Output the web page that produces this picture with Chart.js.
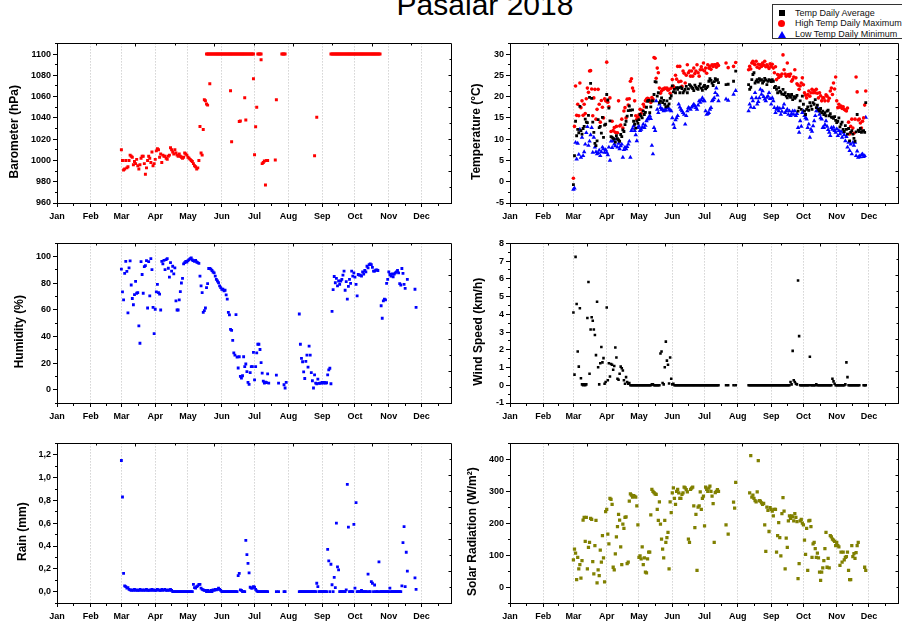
<!DOCTYPE html>
<html><head><meta charset="utf-8">
<script src="https://cdn.jsdelivr.net/npm/chart.js@4.4.1/dist/chart.umd.min.js"></script>
<style>
html,body{margin:0;padding:0;background:#fff;}
body{width:902px;height:625px;position:relative;overflow:hidden;font-family:"Liberation Sans",Arial,sans-serif;}
canvas{position:absolute;}
#title{position:absolute;left:335px;width:300px;top:-10px;line-height:30px;font-size:30px;text-align:center;color:#000;white-space:nowrap;}
#legend{position:absolute;left:772px;top:4px;width:140px;height:33px;border:1px solid #333;background:#fff;font-size:9px;color:#111;}
.li{position:absolute;left:22px;line-height:10px;white-space:nowrap;}
.mk{position:absolute;}
</style></head>
<body>
<div id="title">Pasalar 2018</div>
<div id="legend">
  <div class="mk" style="left:5.7px;top:4.7px;width:6px;height:6px;background:#000;"></div>
  <div class="li" style="top:2.7px;">Temp Daily Average</div>
  <div class="mk" style="left:5.2px;top:14.8px;width:7px;height:7px;border-radius:50%;background:#f00;"></div>
  <div class="li" style="top:13.3px;">High Temp Daily Maximum</div>
  <div class="mk" style="left:4.7px;top:25.5px;width:0;height:0;border-left:4px solid transparent;border-right:4px solid transparent;border-bottom:7px solid #00f;"></div>
  <div class="li" style="top:24px;">Low Temp Daily Minimum</div>
</div>
<script>
const FONT = '"Liberation Sans", Arial, sans-serif';
const monthStarts = [0,31,59,90,120,151,181,212,243,273,304,334];
const monthNames = ['Jan','Feb','Mar','Apr','May','Jun','Jul','Aug','Sep','Oct','Nov','Dec'];
const xRange = [0, 361];
// days of year (Jan 1 = 0) that carry a daily record
const dayRanges = [[59,194],[201,201],[203,203],[208,210],[222,331]];

const baroTicks = [960,980,1000,1020,1040,1060,1080,1100];
const tempTicks = [-5,0,5,10,15,20,25,30];
const humTicks = [0,20,40,60,80,100];
const windTicks = [-1,0,1,2,3,4,5,6,7,8];
const rainTicks = [0,0.2,0.4,0.6,0.8,1.0,1.2];
const rainTickLabels = ['0,0','0,2','0,4','0,6','0,8','1,0','1,2'];
const solarTicks = [0,100,200,300,400];
const axisTitles = ['Barometer (hPa)','Temperature (°C)','Humidity (%)','Wind Speed (km/h)','Rain (mm)','Solar Radiation (W/m²)'];

const baro = [
1010,1000,991,992,1000,993,994,1000,1005,1004,
1003,996,999,997,1001,995,992,996,1002,1004,
1004,997,987,993,1000,1004,1002,998,1008,995,
997,1001,1009,1011,1010,1003,1006,998,1005,1004,
1004,1002,1001,1004,1005,1012,1010,1008,1006,1010,
1007,1005,1004,1006,1004,1003,1002,1003,1007,1006,
1005,1003,1002,1001,1000,999,997,995,994,992,
993,1000,1032,1007,1005,1029,1057,1056,1053,1052,
1100,1072,1100,1100,1100,1100,1100,1100,1100,1100,
1100,1100,1100,1100,1100,1100,1100,1100,1100,1100,
1065.5,1017.6,1100,1100,1100,1100,1100,1100,1036.5,1037,
1100,1100,1100,1059,1038,1100,1100,1100,1100,1100,
1100,1076.7,1005.4,1031.6,1050,1100,1100,1100,1094.7,997,
998,999.5,977,1000,1000,null,
1057,null,1100,1100,null,
null,null,null,null,null,null,null,null,null,null,
null,null,null,null,1004.5,null,1040.6,null,null,null,
null,null,null,null,null,null,null,null,null,1100,
1100,1100,1100,1100,1100,1100,1100,1100,1100,1100,
1100,1100,1100,1100,1100,1100,1100,1100,1100,1100,
1100,1100,1100,1100,1100,1100,1100,1100,1100,1100,
1100,1100,1100,1100,1100,1100,1100,1100,1100,1100,
1100,1100,1100,1100,1100,null,null,null,null,null,
null,null,null,null,null,null,null,null,null,null,
null,null,null,null,null,null,null,null,null,null,
null,null,null,null,null,null,null,null,null,null];
const baroExtra = [[137,1100],[138,1100],[140,1100],[159,1100],[160,1100],[167,1100],[168,1100],[172,1100],[173,1100],[180,1100],[187,1100],[200,1000.4],[206,1100],[207,1100]];

const tAvg = [
-0.7,6.1,14.2,10.8,12.3,11.5,17.7,12.0,11.2,12.5,
13.0,14.7,14.0,13.9,15.6,19.8,23.1,19.6,14.0,11.6,
9.0,8.5,9.6,14.6,12.7,13.0,11.4,15.1,10.4,13.3,
13.5,20.5,19.2,17.3,14.3,10.6,10.4,10.2,10.0,9.3,
10.8,10.1,9.8,9.5,11.1,10.6,12.2,11.8,13.4,14.2,
15.4,16.7,17.8,16.8,15.6,16.9,14.2,13.5,12.6,14.3,
13.7,14.6,15.8,15.4,15.0,16.6,15.8,16.3,17.5,18.9,
19.1,16.2,17.6,19.0,19.0,20.5,23.5,23.4,20.1,20.9,
18.6,19.0,19.7,18.6,19.1,18.2,17.6,19.0,17.8,18.3,
19.6,20.2,22.5,21.1,21.7,20.9,22.1,21.7,22.1,20.9,
22.2,21.9,20.9,21.3,21.7,22.4,20.9,21.8,22.8,22.5,
22.2,21.9,21.4,22.7,22.2,21.9,21.7,22.4,23.0,22.0,
21.5,22.3,22.6,21.8,22.1,22.4,23.6,24.2,23.8,23.2,
22.6,23.5,24.2,23.8,24.0,23.3,
22.8,22.9,23.6,null,26.0,
22.8,21.7,22.2,24.0,25.2,25.6,23.2,23.6,24.0,23.4,
24.2,23.8,24.0,23.2,23.6,24.3,23.9,22.8,23.6,24.0,
23.8,23.5,24.0,23.6,22.1,22.4,21.7,20.9,22.1,21.3,
21.0,20.6,21.7,20.5,20.9,20.1,19.7,20.5,20.2,19.8,
20.5,19.3,20.0,19.6,19.9,20.3,16.6,17.4,19.0,17.0,
20.1,18.2,16.6,15.8,17.0,17.6,16.8,18.6,17.8,17.0,
18.6,18.2,19.3,17.4,18.0,17.0,16.6,17.2,16.2,16.6,
15.8,16.2,15.5,16.6,16.8,15.5,16.0,15.2,15.1,14.9,
15.3,14.4,13.9,14.2,15.0,12.9,13.5,14.0,12.3,11.8,
13.2,12.3,11.2,12.5,9.6,11.6,12.0,11.2,10.2,9.5,
11.7,15.8,12.1,11.8,12.5,11.6,11.9,12.0,11.6,18.6];

const tMax = [
0.8,13.0,22.5,15.6,18.2,15.5,23.2,17.4,19.0,15.6,
18.2,16.0,19.5,22.0,21.0,26.0,26.1,21.8,15.5,19.7,
21.7,14.7,17.0,21.7,18.2,14.0,19.1,17.5,15.0,19.5,
19.0,28.1,18.7,17.6,19.7,11.8,14.2,12.0,12.7,11.6,
13.0,11.5,19.0,13.1,13.3,14.7,12.6,16.6,17.4,15.0,
19.4,18.0,19.5,23.6,24.2,22.0,21.3,19.0,15.5,14.7,
15.1,15.7,17.0,16.0,16.8,18.2,17.6,19.0,19.4,19.6,
19.5,19.0,18.6,19.8,19.4,29.2,29.0,24.3,26.7,25.6,
22.0,20.8,21.3,21.8,21.7,22.0,21.9,22.0,21.5,21.7,
20.8,22.0,24.0,22.5,22.0,25.0,24.1,27.1,23.5,27.1,
23.6,22.4,26.0,25.5,23.2,25.0,27.5,25.6,26.0,24.8,
26.0,24.8,26.7,25.4,26.0,27.5,25.6,24.8,26.3,27.0,
26.3,27.9,26.0,26.7,25.5,27.5,26.7,27.1,26.4,27.5,
27.1,27.5,27.5,26.9,27.7,27.3,
27.9,26.8,27.1,null,28.0,
26.3,27.1,26.5,27.9,28.3,27.7,27.5,28.3,26.9,27.6,
26.7,27.5,27.1,27.9,27.4,28.3,27.0,27.5,27.1,26.6,
27.7,27.1,27.6,26.7,25.6,27.0,24.0,25.2,24.5,25.0,
24.8,25.3,29.8,26.3,25.3,24.8,27.9,25.2,24.8,25.3,
23.6,24.0,24.6,26.3,24.4,23.0,22.7,21.7,22.5,23.2,
24.4,22.8,20.9,20.3,19.7,20.5,21.3,20.1,20.9,21.7,
20.9,21.4,20.9,21.7,20.8,19.7,20.9,20.2,19.0,19.7,
19.7,19.0,20.4,20.1,19.0,19.6,21.3,22.0,20.5,23.2,
21.8,24.6,19.0,17.4,18.2,17.5,17.8,17.2,17.6,17.0,
16.8,16.6,17.3,14.0,11.2,13.0,14.7,12.6,11.4,14.7,
24.6,21.1,14.5,14.7,13.8,12.6,14.2,15.0,18.0,21.3];

const tMin = [
-1.8,-1.5,9.2,5.3,9.0,6.4,12.3,5.7,10.4,6.1,
7.0,8.8,11.5,12.9,8.5,9.5,11.0,12.7,6.9,10.4,
8.1,7.0,6.5,6.8,7.4,6.1,7.0,8.1,7.7,6.9,
7.5,6.9,6.3,8.1,5.0,9.5,8.0,9.6,8.8,8.4,
10.0,8.1,9.0,7.7,8.4,8.8,5.7,7.5,8.1,7.7,
8.2,8.8,9.5,5.7,12.0,12.5,13.1,12.0,11.0,9.6,
12.7,13.0,12.0,12.3,12.8,13.5,12.7,13.2,14.3,14.7,
15.0,15.5,14.8,8.5,6.5,12.7,12.0,19.0,17.0,16.2,
18.2,17.4,17.0,17.0,16.6,16.8,16.8,17.4,17.4,17.0,
16.8,16.6,15.0,13.5,12.7,14.5,15.0,15.5,18.2,17.5,
17.0,16.6,16.2,15.8,13.5,15.5,16.6,17.4,17.2,17.0,
17.5,17.8,18.2,17.8,17.4,17.0,18.0,19.0,18.6,19.2,
19.7,19.0,19.0,16.6,15.8,16.0,16.2,17.0,17.4,19.0,
19.3,19.7,20.9,22.0,20.3,19.0,
19.4,19.1,20.5,null,21.4,
16.6,18.2,17.5,19.7,19.0,17.4,20.9,19.7,18.2,18.8,
19.7,21.7,20.5,21.3,20.0,19.4,19.0,19.8,20.1,20.9,
19.5,18.2,19.7,19.0,17.4,16.2,17.0,17.4,16.6,17.2,
15.8,16.5,17.4,18.2,16.2,16.6,17.0,15.8,16.6,15.5,
16.0,16.6,15.8,16.6,15.5,16.0,12.7,11.6,14.3,13.0,
16.2,16.6,15.5,15.0,14.7,12.7,13.5,10.4,12.3,11.8,
13.1,14.3,15.5,16.6,17.4,16.6,15.8,15.0,14.7,12.7,
12.7,13.4,14.3,13.0,12.2,11.6,10.8,12.7,12.3,12.8,
12.0,11.6,12.4,10.8,12.0,11.2,11.8,10.4,11.6,11.0,
9.6,10.6,8.1,9.2,7.3,8.8,6.5,9.2,8.5,9.2,
6.1,7.2,5.7,6.0,5.8,6.3,6.5,5.9,6.1,15.1];

const hum = [
90.6,73.5,67.6,87.4,96.5,89.0,57.7,91.6,96.8,78.7,
68.6,63.9,71.5,81.4,72.5,73.0,48.0,34.9,96.3,86.6,
72.5,92.6,93.3,97.0,61.4,96.3,70.5,98.5,90.3,61.9,
42.1,60.5,73.5,79.2,73.0,71.8,59.9,96.5,94.6,97.3,
90.3,97.8,98.5,91.3,84.7,95.5,89.1,92.8,87.1,91.6,
66.8,59.9,59.9,67.6,73.8,80.2,83.7,94.6,95.5,96.5,
96.0,97.0,97.8,98.5,99.0,97.5,97.0,96.5,97.2,96.0,
95.5,95.0,85.4,78.0,73.0,58.2,59.4,61.4,76.7,79.7,
91.1,91.1,90.6,89.6,88.5,87.9,85.4,83.0,81.7,80.4,
78.0,76.7,75.5,75.5,74.3,74.8,71.3,68.1,58.2,56.2,
45.3,44.6,37.1,27.7,26.0,56.4,24.6,16.3,24.8,10.0,
8.7,10.5,24.8,17.3,19.3,13.6,5.5,4.0,12.9,17.3,
17.3,28.0,7.4,17.3,27.7,34.2,34.2,30.2,20.3,12.4,
6.4,5.0,5.7,5.3,11.9,5.0,
10.9,5.0,3.7,1.3,5.5,
56.9,34.2,23.5,21.0,13.4,8.4,21.3,26.0,17.0,32.7,
26.0,12.9,6.7,1.3,11.1,5.0,4.5,7.9,4.8,5.0,
5.0,5.5,5.0,5.5,5.0,5.2,11.1,14.9,16.1,4.5,
58.9,75.3,85.1,80.4,83.7,78.0,81.7,79.2,81.7,82.9,
86.1,89.1,74.8,81.2,68.1,77.7,82.9,80.0,89.1,85.4,
87.9,84.7,79.2,70.5,86.6,86.1,86.1,85.4,88.6,87.0,
89.6,88.6,92.8,91.6,94.1,94.6,94.1,92.0,89.1,89.1,
89.9,90.1,89.6,null,null,63.1,53.7,66.8,68.1,67.6,
80.0,82.9,88.6,86.6,85.4,87.1,84.9,87.0,87.9,88.6,
89.6,87.9,79.7,78.7,91.1,87.4,79.2,76.2,null,82.9,
null,null,null,null,null,null,75.5,61.9,null,null];

const wind = [
4.1,0.6,7.24,4.58,1.9,1.05,4.34,0.39,0.05,0,
0.05,0,0.05,3.79,5.82,0.65,3.14,3.83,3.64,3.14,
2.83,1.7,4.71,1.02,0.05,1.24,2.16,1.29,1.53,0.09,
0.18,4.38,0.28,1.24,0.5,1.2,1.16,0.87,1.09,2.13,
1.57,0.37,0.31,0.65,1.05,0.96,0.83,0.28,0.09,0.46,
0.18,0.09,0.13,0,0,0,0,0,0,0,
0,0,0,0,0,0,0,0,0,0,
0,0,0,0.05,0.05,0,0,0,0,0,
0,1.79,1.9,0.13,0.05,1.02,2.46,1.39,1.16,0.1,
1.57,0.37,0.05,0.09,0,0,0,0,0,0,
0,0,0,0,0,0,0,0,0,0,
0,0,0,0,0,0,0,0,0,0,
0,0,0,0,0,0,0,0,0,0,
0,0,0,0,0,0,
0,0,0,null,0,
0,0,0,0,0,0,0,0,0,0,
0,0,0,0,0,0,0,0,0,0,
0,0,0,0,0,0,0,0,0,0,
0,0,0,0,0,0,0,0,0,0.18,
0.05,1.94,0.28,0.18,0.09,0.05,5.91,2.77,0,0,
0,0,0,0,0,0,0,1.61,0,0,
0,0,0,0.05,0,0,0,0,0,0,
0,0,0,0,0,0,0,0,0.37,0.22,
0.09,0,0,0,0,0,0,0,0,0,
0.05,1.29,0.46,0,0,0,0,0,0,0,
0,0,0,0,null,null,null,0,0,0];

const rain = [
1.15,0.83,0.16,0.05,0.044,0.03,0.035,0.02,0.015,0.01,
0.015,0.01,0.02,0.01,0.015,0.01,0.01,0.02,0.01,0.015,
0.01,0.015,0.01,0.02,0.01,0.01,0.015,0.01,0.02,0.01,
0.015,0.01,0.01,0.02,0.015,0.01,0.01,0.02,0.01,0.015,
0.02,0.01,0.01,0.015,0.01,0.02,0.01,0,0,0,
0,0,0,0,0,0,0,0,0,0,
0,0,0,0,0,0,0.064,0.035,0.03,0.044,
0.05,0.064,0.064,0.03,0.02,0.015,0.01,0.01,0,0.01,
0,0,0.01,0,0.015,0.01,0.02,0.015,0.02,0.03,
0.02,0.01,0,0,0,0,0,0,0,0,
0,0,0,0,0,0,0,0.14,0.16,0.015,
0.01,0,0,0,0.45,0.325,0.247,0.165,0.038,0.03,
0.03,0.044,0.038,0.02,0.006,0,0,0,0,0,
0,0,0,0,0,null,
0,0,0,0,null,
0,0,0,0,0,0,0,0,0,0,
0,0,0,0,0,0,0.073,0.044,0,0,
0,0,0,0,0,0,0.37,0.27,0,0.24,
0.06,0,0.125,0.035,0.6,0.217,0.19,0,0,0,
0,0,0,0.015,0.94,0.565,0,0,0,0,
0.59,0.03,0.78,0,0,0,0,0.01,0,0,
0,0,0,0.154,0,0,0.087,0.073,0,0.058,
0,0,0,0.26,0,0,0,0,0,0,
0,0,0,0.03,0,0,0,0,0,0,
0,0,0,0,0.05,0.43,0.57,0.044,0.345,0.18,
null,null,null,null,null,null,0.12,0.02,null,null];

const solar = [
85,119,106,23,93,57,70,28,83,210,
218,143,218,57,124,140,215,212,80,41,
130,209,13,54,36,116,78,161,91,16,
236,243,166,135,278,275,259,62,54,104,
157,189,228,210,126,70,197,184,218,220,
73,78,269,292,288,282,286,284,282,254,
195,93,98,88,126,70,91,47,44,88,
109,109,226,306,300,296,292,290,243,209,
267,197,150,119,91,209,140,155,171,57,
267,233,295,311,278,259,300,306,295,278,
278,290,295,313,311,305,298,150,140,306,
310,313,254,186,228,52,250,254,298,243,
278,285,192,313,306,300,310,316,300,285,
261,140,296,300,305,300,
195,166,266,247,328,
null,295,412,282,288,278,271,267,298,396,
271,269,264,259,262,195,112,250,240,174,
249,243,238,223,243,243,109,161,202,155,
98,230,280,238,57,153,124,207,223,215,
223,220,207,230,218,205,26,73,207,212,
200,195,147,102,184,52,207,209,189,93,
135,140,120,93,106,91,47,21,47,60,
83,120,171,62,90,60,161,157,150,147,
143,130,140,130,126,68,109,78,109,85,
93,95,109,52,23,23,130,95,105,90,
108,130,140,null,null,null,null,null,62,52];

// ---------- build ----------
const days = [];
for (const [a, b] of dayRanges) for (let d = a; d <= b; d++) days.push(d);
const toPts = vals => days.map((d, i) => ({x: d, y: vals[i]})).filter(p => p.y !== null && p.y !== undefined);

function minorsOf(t, lo, hi) {
  const out = [];
  for (let i = 0; i < t.length - 1; i++) out.push((t[i] + t[i+1]) / 2);
  const st = t[1] - t[0];
  const a = t[0] - st/2, b = t[t.length-1] + st/2;
  if (a >= lo - 1e-9) out.push(a);
  if (b <= hi + 1e-9) out.push(b);
  return out;
}
const monthEdges = monthStarts.concat([365]);
const minorX = monthStarts.map((m, i) => (m + monthEdges[i+1]) / 2);

const al = v => Math.round(v - 0.5) + 0.5;
const framePlugin = {
  id: 'frame',
  afterDraw(chart, args, o) {
    const {ctx, chartArea: a, scales: {x, y}} = chart;
    const L = al(a.left), R = al(a.right), T = al(a.top), B = al(a.bottom);
    ctx.save();
    ctx.setLineDash([]);
    ctx.strokeStyle = '#000';
    ctx.lineWidth = 1;
    ctx.beginPath();
    ctx.rect(L, T, R - L, B - T);
    for (const v of o.minorX) { const px = al(x.getPixelForValue(v)); ctx.moveTo(px, B); ctx.lineTo(px, B + 2.5); }
    for (const v of o.minorY) { const py = al(y.getPixelForValue(v)); ctx.moveTo(L, py); ctx.lineTo(L - 2.5, py); }
    for (let i = 1; i < 10; i++) {
      const len = i % 2 === 0 ? 3 : 2;
      const px = al(a.left + (a.right - a.left) * i / 10);
      ctx.moveTo(px, T); ctx.lineTo(px, T + len);
      const py = al(a.bottom - (a.bottom - a.top) * i / 10);
      ctx.moveTo(R, py); ctx.lineTo(R - len, py);
    }
    ctx.stroke();
    ctx.fillStyle = '#000';
    ctx.font = 'bold 12px ' + FONT;
    ctx.translate(o.tx, (a.top + a.bottom) / 2 + 8.5);
    ctx.rotate(-Math.PI / 2);
    ctx.textAlign = 'center';
    ctx.textBaseline = 'middle';
    ctx.fillText(o.title, 0, 0);
    ctx.restore();
  }
};

const panels = [
  {col:0,row:0,title:axisTitles[0],tx:15,ticks:baroTicks,min:960,max:1110,
   sets:[{data:toPts(baro).concat(baroExtra.map(([x,y]) => ({x, y}))),color:'#ff0000',style:'rect',r:2.1}]},
  {col:1,row:0,title:axisTitles[1],tx:21.7,ticks:tempTicks,min:-5,max:32.5,
   sets:[{data:toPts(tAvg),color:'#000000',style:'rect',r:2.0},
         {data:toPts(tMax),color:'#ff0000',style:'circle',r:1.8},
         {data:toPts(tMin),color:'#0000ff',style:'triangle',r:2.6}]},
  {col:0,row:1,title:axisTitles[2],tx:20,ticks:humTicks,min:-10,max:110,
   sets:[{data:toPts(hum),color:'#0000ff',style:'rect',r:2.0}]},
  {col:1,row:1,title:axisTitles[3],tx:24,ticks:windTicks,min:-1,max:8,
   sets:[{data:toPts(wind),color:'#000000',style:'rect',r:1.8}]},
  {col:0,row:2,title:axisTitles[4],tx:23,ticks:rainTicks,labels:rainTickLabels,min:-0.1,max:1.3,
   sets:[{data:toPts(rain),color:'#0000ff',style:'rect',r:2.0}]},
  {col:1,row:2,title:axisTitles[5],tx:18,ticks:solarTicks,min:-50,max:450,
   sets:[{data:toPts(solar),color:'#808000',style:'rect',r:2.3}]}
];

const tickFont = {family: FONT, size: 9, weight: 'bold'};
const titleEl = document.getElementById('title');
panels.forEach(p => {
  const W = p.col ? 447 : 455, H = 189;
  const cv = document.createElement('canvas');
  cv.width = W; cv.height = H;
  cv.style.left = (p.col ? 455 : 0) + 'px';
  cv.style.top = (36 + p.row * 200) + 'px';
  cv.style.width = W + 'px'; cv.style.height = H + 'px';
  document.body.insertBefore(cv, titleEl);
  new Chart(cv, {
    type: 'scatter',
    data: {datasets: p.sets.map(s => ({
      data: s.data, showLine: false, pointStyle: s.style, pointRadius: s.r,
      pointBackgroundColor: s.color, pointBorderColor: s.color, pointBorderWidth: 0
    }))},
    options: {
      responsive: false, animation: false, devicePixelRatio: 1, events: [],
      layout: {padding: {top: 6, left: 0, right: p.col ? 1 : 3, bottom: 0}},
      plugins: {
        legend: {display: false}, tooltip: {enabled: false},
        frame: {title: p.title, tx: p.tx, minorX: minorX, minorY: minorsOf(p.ticks, p.min, p.max)}
      },
      scales: {
        x: {
          type: 'linear', min: xRange[0], max: xRange[1],
          afterBuildTicks: s => { s.ticks = monthStarts.map(v => ({value: v})); },
          afterFit: s => { s.height = 22; },
          ticks: {autoSkip: false, maxRotation: 0, minRotation: 0, padding: 4, font: tickFont, color: '#000',
                  callback: (v, i) => monthNames[i]},
          grid: {display: true, drawOnChartArea: true, drawTicks: true, tickLength: 4, color: '#bdbdbd',
                 tickColor: '#000', tickBorderDash: [], lineWidth: 1},
          border: {display: true, color: '#000', dash: [1, 2]}
        },
        y: {
          type: 'linear', min: p.min, max: p.max,
          afterBuildTicks: s => { s.ticks = p.ticks.map(v => ({value: v})); },
          afterFit: s => { s.width = p.col ? 55 : 57; },
          ticks: {padding: 2, font: tickFont, color: '#000',
                  callback: (v, i) => p.labels ? p.labels[i] : String(p.ticks[i])},
          grid: {display: true, drawOnChartArea: false, drawTicks: true, tickLength: 4, color: '#000', tickColor: '#000'},
          border: {display: true, color: '#000'}
        }
      }
    },
    plugins: [framePlugin]
  });
});
</script>
</body></html>
